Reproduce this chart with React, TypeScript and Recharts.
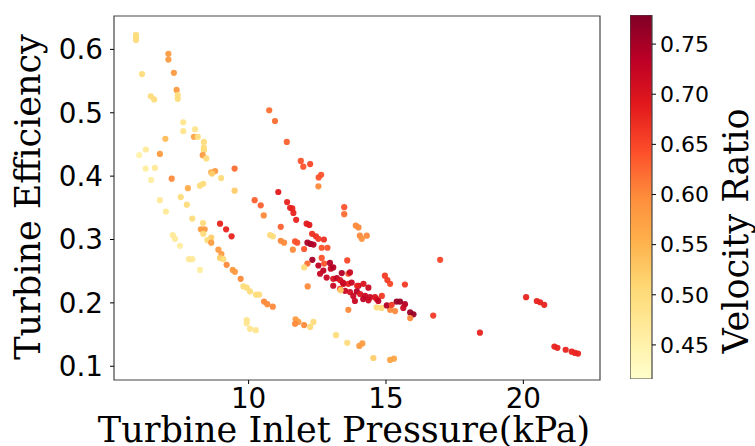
import { ScatterChart, Scatter, XAxis, YAxis, ReferenceArea, BarChart, Bar, Label } from "recharts"

// turbine inlet pressure (kPa)
const pressure = [
  5.9, 5.9, 5.9, 6.12, 6.44, 6.56, 6.02, 6.26, 6.25, 6.59,
  6.45, 6.77, 6.99, 7.24, 7.32, 7.5, 7.83, 7.95, 8.23, 7.08,
  7.08, 7.28, 7.38, 7.42, 7.42, 7.62, 7.62, 8.05, 6.97, 8.01,
  8.15, 8.37, 8.37, 8.37, 8.33, 8.46, 6.77, 7.2, 8.64, 8.78,
  8.67, 9.0, 9.49, 9.49, 8.23, 8.35, 7.79, 7.53, 7.75, 7.95,
  8.34, 8.26, 8.4, 8.35, 8.64, 8.5, 8.64, 8.9, 9.01, 8.96,
  9.08, 9.2, 9.42, 9.5, 9.71, 9.81, 9.93, 10.05, 10.27, 10.38,
  10.56, 10.68, 10.88, 9.93, 9.93, 10.05, 10.26, 8.96, 9.18, 9.38,
  10.75, 10.96, 11.39, 11.9, 11.99, 12.24, 12.64, 12.55, 12.54, 11.08,
  10.22, 10.44, 10.55, 11.4, 11.51, 11.59, 11.63, 11.73, 11.17, 12.11,
  12.21, 13.48, 13.48, 13.9, 14.0, 14.05, 14.3, 14.12, 10.78, 10.88,
  11.17, 11.29, 11.69, 11.77, 11.61, 12.02, 12.31, 12.45, 12.54, 12.74,
  12.14, 12.25, 12.36, 12.66, 12.87, 12.32, 12.66, 12.14, 12.02, 13.59,
  12.15, 13.63, 11.71, 11.81, 11.69, 12.02, 12.24, 12.36, 13.18, 13.59,
  14.03, 14.14, 14.54, 15.15, 15.29, 12.54, 12.72, 12.99, 13.08, 12.75,
  12.96, 12.84, 12.6, 13.08, 13.21, 13.33, 13.39, 13.63, 13.69, 13.43,
  13.63, 13.75, 14.0, 14.18, 14.36, 13.08, 13.45, 13.95, 13.33, 13.51,
  13.69, 13.94, 13.81, 14.06, 14.24, 14.42, 14.6, 14.85, 13.87, 14.17,
  14.36, 14.66, 14.72, 13.35, 14.96, 15.05, 15.15, 15.69, 14.66, 14.84,
  15.15, 15.33, 15.03, 15.21, 15.39, 15.51, 15.69, 15.63, 15.88, 16.0,
  15.88, 16.72, 16.97, 18.42, 20.1, 20.49, 20.61, 20.76, 21.13, 21.24,
  21.54, 21.76, 21.88, 21.99,
]

const efficiency = [
  0.623, 0.619, 0.615, 0.561, 0.526, 0.521, 0.433, 0.442, 0.412, 0.413,
  0.394, 0.362, 0.344, 0.307, 0.301, 0.29, 0.269, 0.269, 0.252, 0.593,
  0.584, 0.563, 0.536, 0.528, 0.522, 0.485, 0.471, 0.474, 0.459, 0.462,
  0.462, 0.454, 0.445, 0.441, 0.433, 0.428, 0.435, 0.396, 0.406, 0.408,
  0.404, 0.397, 0.412, 0.377, 0.385, 0.388, 0.381, 0.367, 0.355, 0.333,
  0.326, 0.316, 0.316, 0.309, 0.303, 0.299, 0.295, 0.284, 0.277, 0.271,
  0.269, 0.26, 0.252, 0.249, 0.238, 0.226, 0.224, 0.218, 0.213, 0.213,
  0.202, 0.198, 0.194, 0.173, 0.168, 0.159, 0.157, 0.325, 0.316, 0.305,
  0.504, 0.487, 0.454, 0.424, 0.415, 0.419, 0.402, 0.398, 0.384, 0.375,
  0.362, 0.354, 0.338, 0.359, 0.35, 0.349, 0.342, 0.331, 0.32, 0.325,
  0.323, 0.351, 0.34, 0.322, 0.319, 0.306, 0.306, 0.301, 0.307, 0.305,
  0.298, 0.295, 0.297, 0.295, 0.284, 0.285, 0.309, 0.305, 0.301, 0.3,
  0.295, 0.293, 0.292, 0.287, 0.287, 0.268, 0.271, 0.262, 0.256, 0.267,
  0.226, 0.189, 0.174, 0.17, 0.167, 0.165, 0.162, 0.17, 0.149, 0.137,
  0.132, 0.136, 0.113, 0.11, 0.112, 0.259, 0.251, 0.254, 0.256, 0.262,
  0.263, 0.24, 0.246, 0.238, 0.239, 0.236, 0.247, 0.246, 0.248, 0.232,
  0.23, 0.232, 0.227, 0.23, 0.224, 0.227, 0.23, 0.227, 0.222, 0.219,
  0.217, 0.218, 0.211, 0.214, 0.211, 0.209, 0.209, 0.211, 0.203, 0.206,
  0.204, 0.206, 0.203, 0.22, 0.243, 0.236, 0.23, 0.229, 0.193, 0.192,
  0.189, 0.187, 0.196, 0.197, 0.202, 0.202, 0.198, 0.192, 0.185, 0.182,
  0.176, 0.18, 0.268, 0.153, 0.209, 0.203, 0.201, 0.197, 0.131, 0.129,
  0.126, 0.123, 0.121, 0.12,
]

const velocityRatio = [
  0.5, 0.5, 0.5, 0.5, 0.5, 0.5, 0.45, 0.47, 0.46, 0.47,
  0.46, 0.47, 0.47, 0.47, 0.47, 0.46, 0.47, 0.47, 0.46, 0.58,
  0.58, 0.58, 0.58, 0.5, 0.5, 0.48, 0.48, 0.48, 0.54, 0.57,
  0.5, 0.5, 0.5, 0.5, 0.58, 0.5, 0.58, 0.6, 0.57, 0.58,
  0.52, 0.5, 0.62, 0.52, 0.5, 0.5, 0.56, 0.5, 0.5, 0.5,
  0.5, 0.58, 0.58, 0.5, 0.52, 0.5, 0.58, 0.58, 0.58, 0.52,
  0.5, 0.6, 0.58, 0.58, 0.6, 0.5, 0.5, 0.5, 0.5, 0.5,
  0.6, 0.6, 0.6, 0.48, 0.48, 0.48, 0.48, 0.68, 0.68, 0.68,
  0.62, 0.62, 0.63, 0.64, 0.64, 0.65, 0.64, 0.64, 0.6, 0.69,
  0.63, 0.63, 0.6, 0.68, 0.68, 0.68, 0.68, 0.68, 0.63, 0.69,
  0.69, 0.64, 0.62, 0.6, 0.6, 0.6, 0.6, 0.59, 0.5, 0.5,
  0.6, 0.6, 0.64, 0.64, 0.6, 0.64, 0.67, 0.67, 0.66, 0.67,
  0.75, 0.75, 0.74, 0.64, 0.64, 0.75, 0.64, 0.62, 0.5, 0.65,
  0.6, 0.6, 0.58, 0.58, 0.6, 0.6, 0.5, 0.5, 0.5, 0.5,
  0.58, 0.58, 0.52, 0.57, 0.57, 0.73, 0.73, 0.72, 0.74, 0.64,
  0.74, 0.72, 0.72, 0.7, 0.73, 0.7, 0.74, 0.64, 0.72, 0.72,
  0.68, 0.72, 0.73, 0.7, 0.72, 0.72, 0.72, 0.68, 0.66, 0.72,
  0.71, 0.74, 0.72, 0.7, 0.72, 0.72, 0.7, 0.66, 0.72, 0.73,
  0.72, 0.7, 0.73, 0.52, 0.66, 0.66, 0.65, 0.66, 0.5, 0.5,
  0.6, 0.6, 0.74, 0.66, 0.76, 0.76, 0.74, 0.72, 0.76, 0.76,
  0.6, 0.66, 0.65, 0.68, 0.68, 0.68, 0.68, 0.68, 0.68, 0.68,
  0.68, 0.68, 0.68, 0.68,
]

const xTicks = [10, 15, 20]
const yTicks = [0.1, 0.2, 0.3, 0.4, 0.5, 0.6]
const cbarTicks = [0.45, 0.5, 0.55, 0.6, 0.65, 0.7, 0.75]

const X_DOMAIN: [number, number] = [5.1, 22.79]
const Y_DOMAIN: [number, number] = [0.0783, 0.6527]
const V_MIN = 0.416
const V_MAX = 0.779

// matplotlib YlOrRd
const YLORRD = ["#ffffcc", "#ffeda0", "#fed976", "#feb24c", "#fd8d3c", "#fc4e2a", "#e31a1c", "#bd0026", "#800026"]

function hexToRgb(h: string) {
  return [parseInt(h.slice(1, 3), 16), parseInt(h.slice(3, 5), 16), parseInt(h.slice(5, 7), 16)]
}

function colorFor(v: number) {
  const t = Math.max(0, Math.min(1, (v - V_MIN) / (V_MAX - V_MIN)))
  const pos = t * (YLORRD.length - 1)
  const i = Math.min(YLORRD.length - 2, Math.floor(pos))
  const f = pos - i
  const a = hexToRgb(YLORRD[i])
  const b = hexToRgb(YLORRD[i + 1])
  const c = a.map((ch, k) => Math.round(ch + (b[k] - ch) * f))
  return `rgb(${c[0]},${c[1]},${c[2]})`
}

const points = pressure.map((p, i) => ({ p, e: efficiency[i], v: velocityRatio[i] }))
const cbarData = [{ name: "cbar", v: V_MAX }]

const SANS = "DejaVu Sans"
const SERIF = "DejaVu Serif"
const LABEL_SIZE = 35

export default function App() {
  return (
    <div style={{ position: "absolute", left: 0, top: 0, width: 755, height: 446, background: "#fff", overflow: "hidden" }}>
      <div style={{ position: "absolute", left: 0, top: 0 }}>
        <ScatterChart width={620} height={446} margin={{ top: 16, right: 20, bottom: 0, left: 0 }}>
          <XAxis
            type="number"
            dataKey="p"
            domain={X_DOMAIN}
            allowDataOverflow
            ticks={xTicks}
            height={66}
            axisLine={false}
            tickSize={4}
            tickMargin={4}
            tickLine={{ stroke: "#000" }}
            tick={{ fill: "#000", fontFamily: SANS, fontSize: 27.8 }}
          >
            <Label
              content={() => (
                <text x={344} y={442} textAnchor="middle" fontFamily={SERIF} fontSize={LABEL_SIZE} fill="#000">
                  Turbine Inlet Pressure(kPa)
                </text>
              )}
            />
          </XAxis>
          <YAxis
            type="number"
            dataKey="e"
            domain={Y_DOMAIN}
            allowDataOverflow
            ticks={yTicks}
            width={114}
            axisLine={false}
            tickSize={4}
            tickMargin={7}
            tickLine={{ stroke: "#000" }}
            tickFormatter={(v: number) => v.toFixed(1)}
            tick={{ fill: "#000", fontFamily: SANS, fontSize: 27.8 }}
          >
            <Label
              content={() => (
                <text
                  x={40}
                  y={197}
                  textAnchor="middle"
                  fontFamily={SERIF}
                  fontSize={LABEL_SIZE}
                  fill="#000"
                  transform="rotate(-90, 40, 197)"
                >
                  Turbine Efficiency
                </text>
              )}
            />
          </YAxis>
          <Scatter
            data={points}
            isAnimationActive={false}
            shape={(props: any) => (
              <circle cx={props.cx} cy={props.cy} r={3.1} fill={colorFor(props.payload.v)} fillOpacity={0.95} />
            )}
          />
          <ReferenceArea
            x1={X_DOMAIN[0]}
            x2={X_DOMAIN[1]}
            y1={Y_DOMAIN[0]}
            y2={Y_DOMAIN[1]}
            fill="none"
            fillOpacity={0}
            stroke="#444"
            strokeWidth={1.2}
          />
        </ScatterChart>
      </div>

      <div style={{ position: "absolute", left: 630, top: 0 }}>
        <BarChart
          width={125}
          height={446}
          data={cbarData}
          margin={{ top: 15, right: 0, bottom: 0, left: 0 }}
          barCategoryGap={0}
        >
          <defs>
            <linearGradient id="cbar-fill" x1="0" y1="1" x2="0" y2="0">
              {YLORRD.map((c, i) => (
                <stop key={c} offset={`${(i / (YLORRD.length - 1)) * 100}%`} stopColor={c} />
              ))}
            </linearGradient>
          </defs>
          <XAxis dataKey="name" height={67} tick={false} axisLine={false} tickLine={false} />
          <YAxis
            orientation="right"
            type="number"
            domain={[V_MIN, V_MAX]}
            allowDataOverflow
            ticks={cbarTicks}
            width={103}
            axisLine={false}
            tickSize={4}
            tickMargin={4}
            tickLine={{ stroke: "#000" }}
            tickFormatter={(v: number) => v.toFixed(2)}
            tick={{ fill: "#000", fontFamily: SANS, fontSize: 22 }}
          >
            <Label
              content={() => (
                <text
                  x={118}
                  y={231}
                  textAnchor="middle"
                  fontFamily={SERIF}
                  fontSize={LABEL_SIZE}
                  fill="#000"
                  transform="rotate(-90, 118, 231)"
                >
                  Velocity Ratio
                </text>
              )}
            />
          </YAxis>
          <Bar dataKey="v" fill="url(#cbar-fill)" stroke="#444" strokeWidth={1.2} isAnimationActive={false} />
        </BarChart>
      </div>
    </div>
  )
}
